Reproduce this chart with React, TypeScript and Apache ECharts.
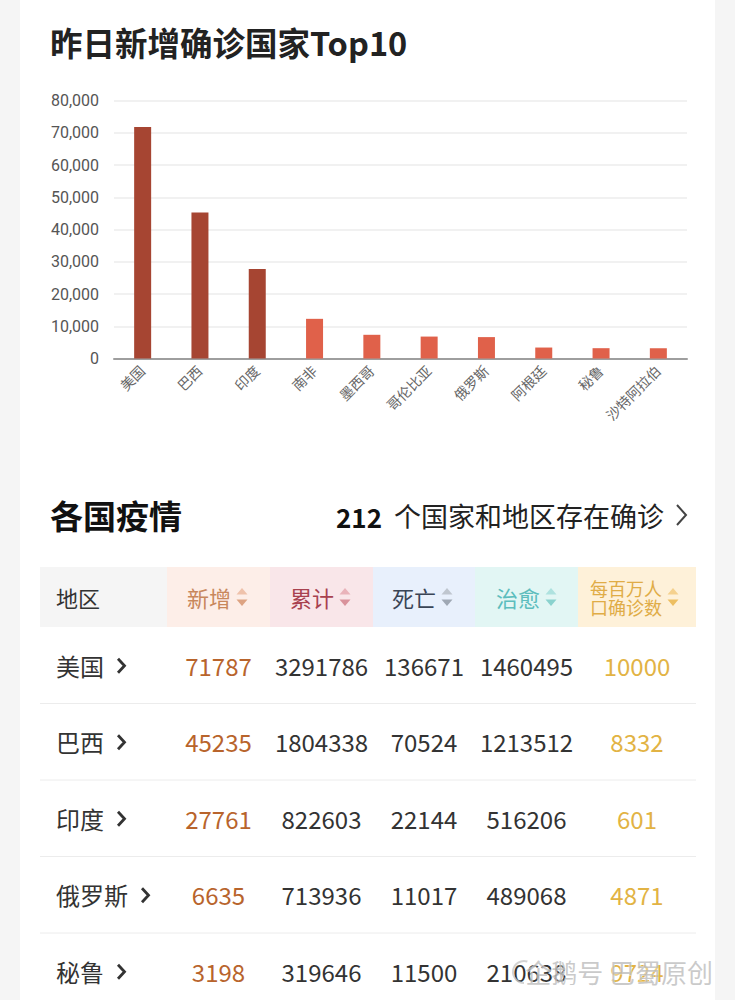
import React, { useEffect, useRef } from "react";
import * as echarts from "echarts";

// ---- chart data ----
const categories = ["美国", "巴西", "印度", "南非", "墨西哥", "哥伦比亚", "俄罗斯", "阿根廷", "秘鲁", "沙特阿拉伯"];
const newCases = [71787, 45235, 27761, 12300, 7350, 6800, 6635, 3400, 3198, 3180];
const yTicks = { min: 0, max: 80000, interval: 10000 };

// ---- table data ----
const headerLabels = ["地区", "新增", "累计", "死亡", "治愈", "每百万人\n口确诊数"];
const tableRegions = ["美国", "巴西", "印度", "俄罗斯", "秘鲁"];
const tableNew = [71787, 45235, 27761, 6635, 3198];
const tableTotal = [3291786, 1804338, 822603, 713936, 319646];
const tableDeaths = [136671, 70524, 22144, 11017, 11500];
const tableCured = [1460495, 1213512, 516206, 489068, 210638];
const tablePerMillion = [10000, 8332, 601, 4871, 9724];
const countryCount = 212;

const CJK = "'Noto Sans CJK SC', sans-serif";
const CHART_FONT = "Roboto, 'Noto Sans CJK SC', sans-serif";

function buildGraphics() {
  const els: any[] = [];
  // white card
  els.push({ type: "rect", z: -100, shape: { x: 20, y: 0, width: 695, height: 1000 }, style: { fill: "#ffffff" } });
  // title
  els.push({
    type: "text", x: 50, y: 41,
    style: { text: "昨日新增确诊国家Top10", font: `bold 32.5px ${CJK}`, fill: "#222", textAlign: "left", textVerticalAlign: "middle" },
  });
  // section title
  els.push({
    type: "text", x: 50, y: 515,
    style: { text: "各国疫情", font: `bold 33px ${CJK}`, fill: "#111", textAlign: "left", textVerticalAlign: "middle" },
  });
  els.push({
    type: "text", x: 382, y: 516,
    style: { text: String(countryCount), font: `bold 26px ${CJK}`, fill: "#111", textAlign: "right", textVerticalAlign: "middle" },
  });
  els.push({
    type: "text", x: 664, y: 515,
    style: { text: "个国家和地区存在确诊", font: `27px ${CJK}`, fill: "#222", textAlign: "right", textVerticalAlign: "middle" },
  });
  els.push({
    type: "polyline", shape: { points: [[677, 505], [686, 515], [677, 525]] },
    style: { stroke: "#444", lineWidth: 2, fill: "none" },
  });

  // table header
  const colX = [40, 167, 270, 373, 475, 578, 696];
  const headBg = ["#f5f5f5", "#fdeee8", "#f9e6e9", "#e8f0fc", "#e2f6f4", "#fef1d9"];
  const headFg = ["#333333", "#c8875c", "#a8414f", "#3a4556", "#5cbdbd", "#e0ac46"];
  const arrowUp = ["", "#efc2ab", "#e9b3ba", "#bfc6cf", "#aee2df", "#f5d18e"];
  const arrowDown = ["", "#dda382", "#d9929b", "#9fa8b4", "#8ad2ce", "#edbf62"];
  const textOffset = [16, 20, 20, 19, 21, 12];
  const hTop = 567, hH = 60, hMid = hTop + hH / 2;
  headerLabels.forEach((lab, i) => {
    els.push({ type: "rect", shape: { x: colX[i], y: hTop, width: colX[i + 1] - colX[i], height: hH }, style: { fill: headBg[i] } });
    const lines = lab.split("\n");
    const multi = lines.length > 1;
    const fs = multi ? 18 : 22;
    lines.forEach((ln, k) => {
      els.push({
        type: "text", x: colX[i] + textOffset[i],
        y: multi ? (k === 0 ? hMid - 1 : hMid + 1.5) : hMid,
        style: {
          text: ln, font: `${fs}px ${CJK}`, fill: headFg[i], textAlign: "left",
          textVerticalAlign: multi ? (k === 0 ? "bottom" : "top") : "middle",
          lineHeight: multi ? 17 : undefined,
        },
      });
    });
    if (i > 0) {
      const w = multi ? 4 * fs : 2 * fs;
      const cx = colX[i] + textOffset[i] + w + 11;
      els.push({ type: "polygon", shape: { points: [[cx - 5.5, hMid - 2.5], [cx + 5.5, hMid - 2.5], [cx, hMid - 9]] }, style: { fill: arrowUp[i] } });
      els.push({ type: "polygon", shape: { points: [[cx - 5.5, hMid + 2.5], [cx + 5.5, hMid + 2.5], [cx, hMid + 9]] }, style: { fill: arrowDown[i] } });
    }
  });

  // rows
  const rowH = 76.5;
  const numCols = [tableNew, tableTotal, tableDeaths, tableCured, tablePerMillion];
  const numColors = ["#b8642c", "#333333", "#333333", "#333333", "#e2b344"];
  tableRegions.forEach((name, r) => {
    const cy = hTop + hH + rowH * r + rowH / 2;
    els.push({
      type: "text", x: 56, y: cy,
      style: { text: name, font: `24px ${CJK}`, fill: "#333", textAlign: "left", textVerticalAlign: "middle" },
    });
    const chx = 56 + name.length * 24 + 14;
    els.push({
      type: "polyline", shape: { points: [[chx, cy - 6.5], [chx + 6.5, cy + 0.5], [chx, cy + 7.5]] },
      style: { stroke: "#333", lineWidth: 2.8, fill: "none" },
    });
    numCols.forEach((col, c) => {
      const cx = (colX[c + 1] + colX[c + 2]) / 2;
      els.push({
        type: "text", x: cx, y: cy,
        style: { text: String(col[r]), font: `24px ${CJK}`, fill: numColors[c], textAlign: "center", textVerticalAlign: "middle" },
      });
    });
    if (r < tableRegions.length - 1) {
      const ly = hTop + hH + rowH * (r + 1);
      els.push({ type: "line", shape: { x1: 40, y1: ly, x2: 696, y2: ly }, style: { stroke: "#ececec", lineWidth: 1 } });
    }
  });

  // watermark
  els.push({
    type: "arc", z: 50, shape: { cx: 524, cy: 972, r: 11, startAngle: Math.PI * 0.5, endAngle: Math.PI * 1.6 },
    style: { stroke: "rgba(200,200,200,0.8)", lineWidth: 2, fill: "none" },
  });
  els.push({
    type: "text", z: 50, x: 713, y: 971,
    style: { text: "企鹅号 巴蜀原创", font: `26px ${CJK}`, fill: "rgba(185,185,185,0.75)", stroke: "rgba(255,255,255,0.6)", lineWidth: 1, textAlign: "right", textVerticalAlign: "middle" },
  });
  return els;
}

export default function App() {
  const ref = useRef<HTMLDivElement>(null);
  useEffect(() => {
    if (!ref.current) return;
    const chart = echarts.init(ref.current, null, { renderer: "svg" });
    chart.setOption({
      animation: false,
      backgroundColor: "#f5f5f5",
      textStyle: { fontFamily: CHART_FONT },
      grid: { left: 114, right: 48, top: 100.5, height: 258, containLabel: false },
      xAxis: {
        type: "category",
        data: categories,
        axisLine: { lineStyle: { color: "#9e9e9e", width: 2 } },
        axisTick: { show: false },
        axisLabel: { rotate: 45, fontSize: 14, color: "#666", margin: 10, interval: 0, fontFamily: CHART_FONT },
      },
      yAxis: {
        type: "value",
        min: yTicks.min,
        max: yTicks.max,
        interval: yTicks.interval,
        axisLine: { show: false },
        axisTick: { show: false },
        splitLine: { lineStyle: { color: "#ececec", width: 1.5 } },
        axisLabel: {
          fontSize: 16, color: "#555", margin: 15, fontFamily: CHART_FONT,
          formatter: (v: number) => v.toLocaleString("en-US"),
        },
      },
      series: [
        {
          type: "bar",
          barWidth: 17,
          data: newCases.map((v, i) => ({ value: v, itemStyle: { color: i < 3 ? "#a64532" : "#e0614a" } })),
        },
      ],
      graphic: { elements: buildGraphics() },
    });
    return () => chart.dispose();
  }, []);
  return <div ref={ref} style={{ position: "fixed", left: 0, top: 0, width: 735, height: 1000 }} />;
}
